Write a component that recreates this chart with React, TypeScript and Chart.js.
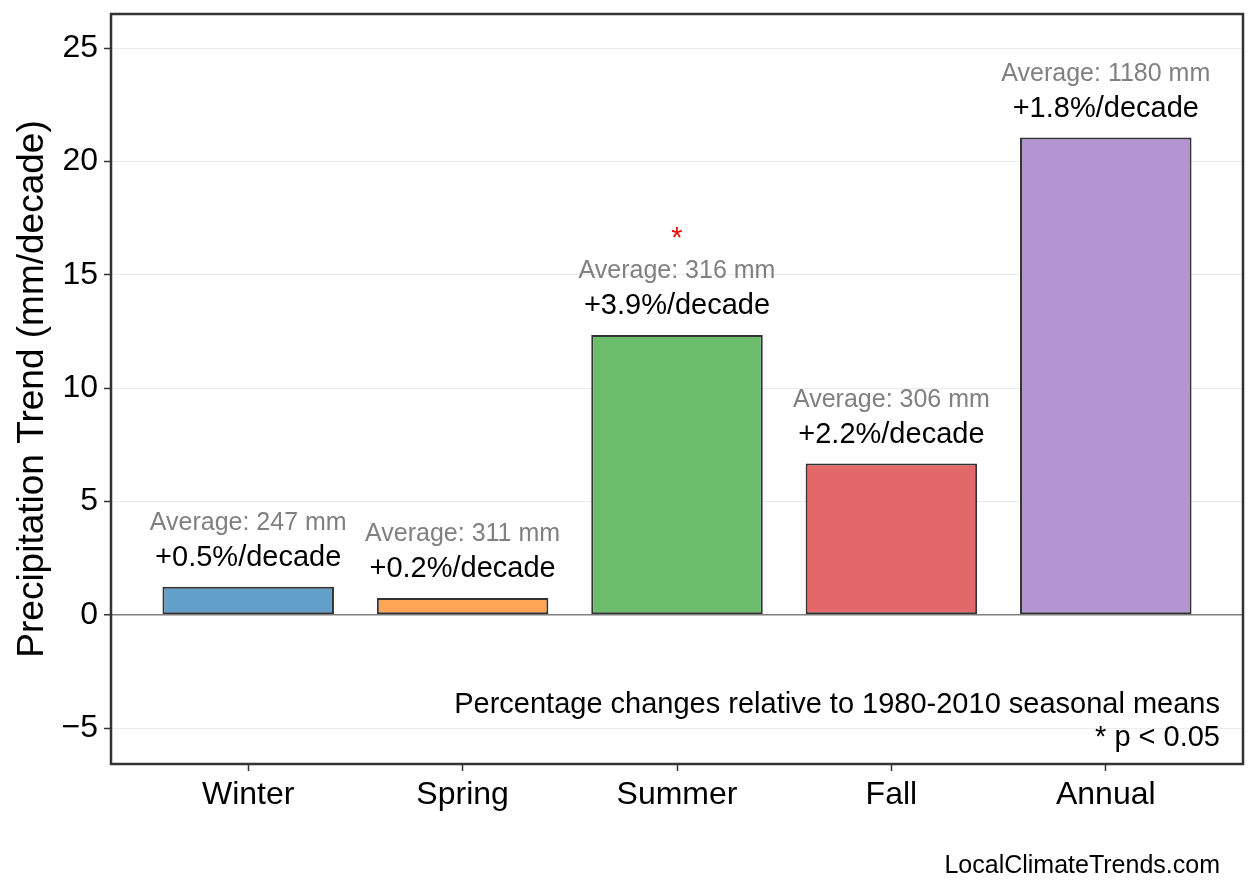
import { useEffect, useRef } from "react";
import { Chart, registerables } from "chart.js";

Chart.register(...registerables);

const FONT = "'Liberation Sans', Arial, Helvetica, sans-serif";

const seasons = ["Winter", "Spring", "Summer", "Fall", "Annual"];
const trends = [1.25, 0.75, 12.35, 6.68, 21.05];
const pctLabels = ["+0.5%/decade", "+0.2%/decade", "+3.9%/decade", "+2.2%/decade", "+1.8%/decade"];
const averages = [247, 311, 316, 306, 1180];
const significant = [false, false, true, false, false];
const barColors = ["#62a0ca", "#ffa556", "#6bbc6b", "#e26869", "#b495d1"];
const yTicks = [-5, 0, 5, 10, 15, 20, 25];

const barLabels = {
  id: "barLabels",
  afterDatasetsDraw(chart: Chart) {
    const ctx = chart.ctx;
    const meta = chart.getDatasetMeta(0);
    ctx.save();
    ctx.textAlign = "center";
    ctx.textBaseline = "alphabetic";
    meta.data.forEach((bar: any, i: number) => {
      const top = bar.y;
      ctx.fillStyle = "#000";
      ctx.font = `29px ${FONT}`;
      ctx.fillText(pctLabels[i], bar.x, top - 21);
      ctx.fillStyle = "#808080";
      ctx.font = `25px ${FONT}`;
      ctx.fillText(`Average: ${averages[i]} mm`, bar.x, top - 57);
      if (significant[i]) {
        ctx.fillStyle = "#ff0000";
        ctx.font = `29px ${FONT}`;
        ctx.fillText("*", bar.x, top - 88);
      }
    });
    ctx.restore();
  },
  afterDraw(chart: Chart) {
    const { ctx, chartArea } = chart;
    ctx.save();
    ctx.strokeStyle = "#333";
    ctx.lineWidth = 2.5;
    ctx.strokeRect(chartArea.left, chartArea.top, chartArea.right - chartArea.left, chartArea.bottom - chartArea.top);
    ctx.fillStyle = "#000";
    ctx.textAlign = "right";
    ctx.textBaseline = "alphabetic";
    ctx.font = `29px ${FONT}`;
    ctx.fillText("Percentage changes relative to 1980-2010 seasonal means", chartArea.right - 23, chartArea.bottom - 51);
    ctx.fillText("* p < 0.05", chartArea.right - 23, chartArea.bottom - 18);
    ctx.font = `25px ${FONT}`;
    ctx.fillText("LocalClimateTrends.com", chart.width - 38, chart.height - 20);
    ctx.restore();
  },
};

const whiteBg = {
  id: "whiteBg",
  beforeDraw(chart: Chart) {
    const ctx = chart.ctx;
    ctx.save();
    ctx.fillStyle = "#fff";
    ctx.fillRect(0, 0, chart.width, chart.height);
    ctx.restore();
  },
};

export default function App() {
  const canvasRef = useRef<HTMLCanvasElement | null>(null);

  useEffect(() => {
    if (!canvasRef.current) return;
    const chart = new Chart(canvasRef.current, {
      type: "bar",
      data: {
        datasets: [
          {
            data: seasons.map((_, i) => ({ x: i, y: trends[i] })),
            backgroundColor: barColors,
            borderColor: "#333",
            borderWidth: 2,
            borderSkipped: false,
            barPercentage: 0.8,
            categoryPercentage: 1,
          },
        ],
      },
      options: {
        animation: false,
        responsive: true,
        maintainAspectRatio: false,
        layout: { padding: { top: 14, right: 15, left: 0, bottom: 0 } },
        plugins: { legend: { display: false }, tooltip: { enabled: false } },
        scales: {
          x: {
            type: "linear",
            offset: false,
            min: -0.64,
            max: 4.64,
            afterBuildTicks: (scale: any) => {
              scale.ticks = seasons.map((_, i) => ({ value: i }));
            },
            afterFit: (scale: any) => {
              scale.height = 129;
              scale.paddingLeft = 0;
              scale.paddingRight = 0;
            },
            ticks: {
              callback: (v: any) => seasons[v] ?? "",
              color: "#000",
              font: { family: FONT, size: 32 },
              padding: 5,
              maxRotation: 0,
              autoSkip: false,
            },
            grid: {
              offset: false,
              drawOnChartArea: false,
              drawTicks: true,
              tickLength: 7,
              tickColor: "#333",
              tickWidth: 1.5,
            },
            border: { display: false },
          },
          y: {
            min: -6.57,
            max: 26.5,
            afterBuildTicks: (scale: any) => {
              scale.ticks = yTicks.map((v) => ({ value: v }));
            },
            afterFit: (scale: any) => {
              scale.width = 111;
              scale.paddingTop = 0;
              scale.paddingBottom = 0;
            },
            ticks: {
              callback: (v: any) => (v < 0 ? "\u2212" + Math.abs(v) : String(v)),
              color: "#000",
              font: { family: FONT, size: 32 },
              padding: 6,
            },
            grid: {
              color: (c: any) => (c.tick && c.tick.value === 0 ? "#808080" : "#ebebeb"),
              lineWidth: (c: any) => (c.tick && c.tick.value === 0 ? 1.5 : 1),
              tickLength: 7,
              tickColor: "#333",
              tickWidth: 1.5,
            },
            border: { display: false },
            title: {
              display: true,
              text: "Precipitation Trend (mm/decade)",
              color: "#000",
              font: { family: FONT, size: 37 },
              padding: { top: 11, bottom: 0 },
            },
          },
        },
      },
      plugins: [whiteBg, barLabels],
    });
    return () => chart.destroy();
  }, []);

  return (
    <div style={{ position: "absolute", left: 0, top: 0, width: 1258, height: 893, background: "#fff" }}>
      <canvas ref={canvasRef} />
    </div>
  );
}
